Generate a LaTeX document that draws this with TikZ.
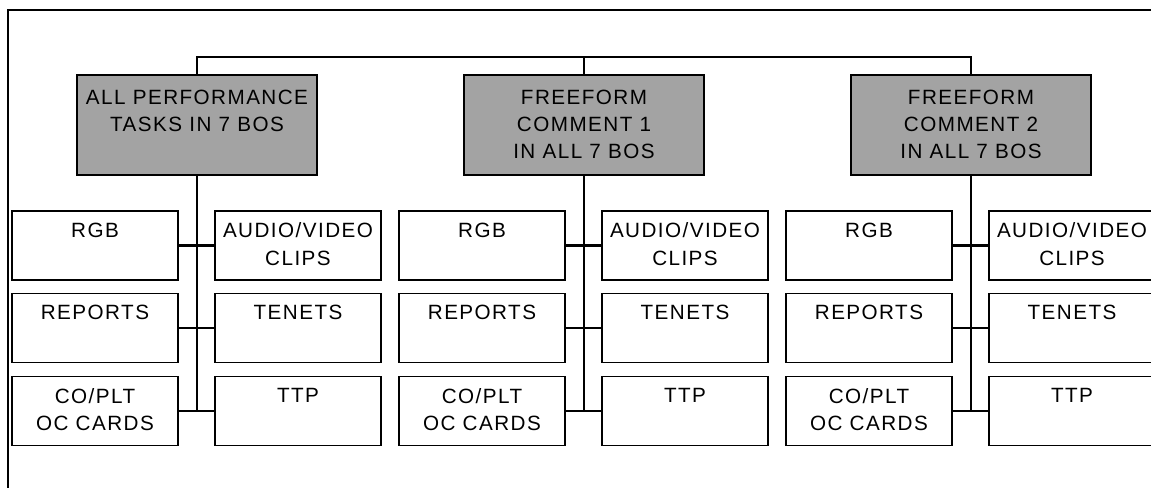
\documentclass[tikz,border=0pt]{standalone}
\usepackage{fontspec}
\setmainfont{Liberation Sans}
\newfontfamily\chartfont[LetterSpace=7]{Liberation Sans}
\usetikzlibrary{positioning}
\newcommand{\toptext}[4]{\parbox[c][#1][t]{#2}{\centering\vspace*{#3}#4}}

\begin{document}
\begin{tikzpicture}[x=0.75pt,y=-0.75pt,
  head/.style={draw,fill=black!36,line width=0.9pt,inner sep=0pt,lab},
  item/.style={draw,line width=0.9pt,inner sep=0pt,lab},
  wire/.style={line width=1.6pt},
  lab/.style={font=\chartfont\fontsize{15.5}{20.5}\selectfont}]

\clip (0,0) rectangle (1151,487);

%% outer frame (runs off the page right and below)
\draw[wire] (8,500) -- (8,10) -- (1160,10);

%% three columns: header box, six boxes, spine
\foreach \c/\cx/\htxt in {1/197/{ALL PERFORMANCE\\TASKS IN 7 BOS},
                          2/584/{FREEFORM\\COMMENT 1\\IN ALL 7 BOS},
                          3/971/{FREEFORM\\COMMENT 2\\IN ALL 7 BOS}} {
  \node[head] (h\c) at (\cx,125) {\toptext{75pt}{180pt}{11pt}{\htxt}};
  \node[item] (rgb\c) at (\cx-102,245.5) {\toptext{51.75pt}{124.5pt}{9pt}{RGB}};
  \node[item] (av\c)  at (\cx+101,245.5) {\toptext{51.75pt}{124.5pt}{9pt}{AUDIO/VIDEO\\CLIPS}};
  \node[item] (rep\c) at (\cx-102,328)   {\toptext{51.75pt}{124.5pt}{9pt}{REPORTS}};
  \node[item] (ten\c) at (\cx+101,328)   {\toptext{51.75pt}{124.5pt}{9pt}{TENETS}};
  \node[item] (co\c)  at (\cx-102,411)   {\toptext{51.75pt}{124.5pt}{9pt}{CO/PLT\\OC CARDS}};
  \node[item] (ttp\c) at (\cx+101,411)   {\toptext{51.75pt}{124.5pt}{9pt}{TTP}};
  \coordinate (j\c) at (\cx,411);
  \draw[wire] (h\c.south) -- (j\c);
  \draw[wire] (rgb\c.east) -- (av\c.west);
  \draw[wire] (rep\c.east) -- (ten\c.west);
  \draw[wire] (co\c.east) -- (ttp\c.west);
}

%% top bar joining the headers
\draw[wire] (h1.north) -- ++(0,-17) -| (h3.north);
\draw[wire] (h2.north) -- ++(0,-17);
\end{tikzpicture}
\end{document}
